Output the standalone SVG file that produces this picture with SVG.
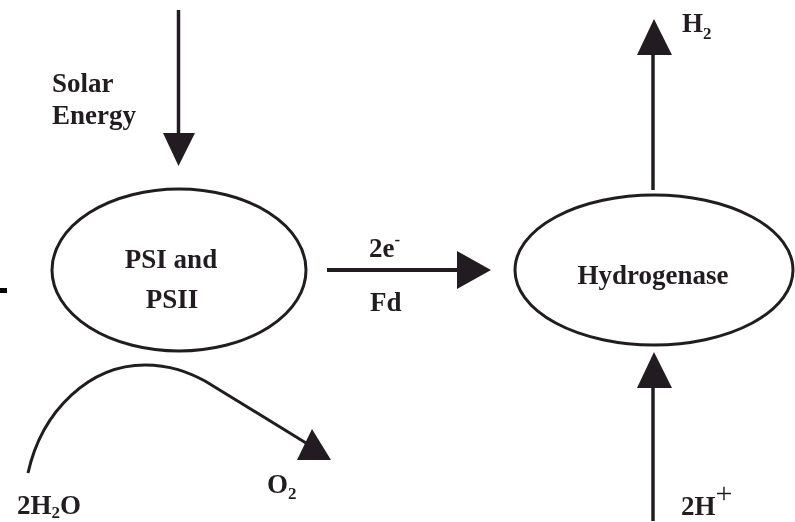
<svg xmlns="http://www.w3.org/2000/svg" width="795" height="522" viewBox="0 0 795 522">
<defs><filter id="soft" x="-5%" y="-5%" width="110%" height="110%"><feGaussianBlur stdDeviation="0.55"/></filter></defs>
<style>
.n{fill:#fff;stroke:#231f20;stroke-width:3}
.c{fill:none;stroke:#231f20;stroke-width:3.5}
.h{fill:#231f20;stroke:none}
text{font-family:"Liberation Serif","Times New Roman",serif;font-size:27px;font-weight:bold;fill:#231f20}
.s{font-size:17px}
</style>
<rect width="795" height="522" fill="#fff"/>
<rect x="0" y="288" width="7" height="5" fill="#000"/>
<g filter="url(#soft)">
<g id="connectors">
<line class="c" x1="178.500" y1="10" x2="178.500" y2="136"/>
<polygon class="h" points="163,133 195,133 178.500,166"/>
<line class="c" style="stroke-width:4" x1="327" y1="270" x2="460" y2="270"/>
<polygon class="h" points="457,251 491,270 457,289"/>
<line class="c" x1="653" y1="190" x2="653" y2="53"/>
<polygon class="h" points="637,55 672,55 654,19"/>
<line class="c" x1="653" y1="521" x2="653" y2="386"/>
<polygon class="h" points="637,388 672,388 654,352"/>
<path class="c" style="stroke-width:3" d="M28 473C42 410 90 365 145 365C170 365 188 372 205 381L306 443"/>
<polygon class="h" points="297,460 331,460 312,429"/>
</g>
<g id="psi-psii">
<ellipse class="n" cx="179" cy="270" rx="127" ry="81"/>
<text x="171" y="268" text-anchor="middle">PSI and</text>
<text x="172" y="308" text-anchor="middle">PSII</text>
</g>
<g id="hydrogenase">
<ellipse class="n" cx="654" cy="270" rx="139" ry="75"/>
<text x="653" y="284" text-anchor="middle">Hydrogenase</text>
</g>
<g id="solar-energy">
<text x="52" y="92">Solar</text>
<text x="52" y="124">Energy</text>
</g>
<g id="electron-label">
<text x="369" y="257">2e<tspan class="s" dy="-12">-</tspan></text>
<text x="370" y="311">Fd</text>
</g>
<g id="h2-label">
<text x="682" y="32">H<tspan class="s" dy="7">2</tspan></text>
</g>
<g id="proton-label">
<text x="681" y="515">2H<tspan font-size="30" font-weight="normal" dy="-12">+</tspan></text>
</g>
<g id="water-label">
<text x="17" y="514">2H<tspan class="s" dy="4">2</tspan><tspan dy="-4">O</tspan></text>
</g>
<g id="oxygen-label">
<text x="267" y="493">O<tspan class="s" dy="6">2</tspan></text>
</g>
</g>
</svg>
